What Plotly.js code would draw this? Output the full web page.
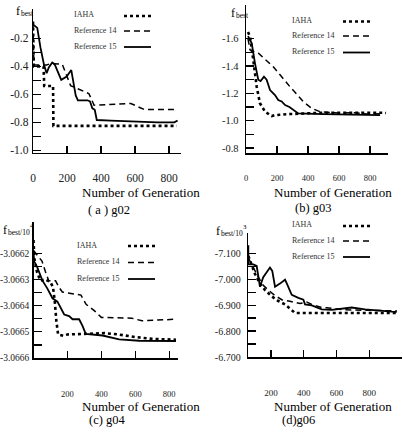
<!DOCTYPE html>
<html>
<head>
<meta charset="utf-8">
<script src="https://cdn.plot.ly/plotly-3.0.1.min.js"></script>
<style>
  html, body { margin: 0; padding: 0; background: #fff; }
  #chart { width: 403px; height: 436px; }
</style>
</head>
<body>
<div id="chart"></div>
<script>
// ---------------- DATA ----------------
const seriesNames = ["IAHA", "Reference 14", "Reference 15"];

// (a) g02
const a_iaha_x = [0, 5, 62, 66, 118, 120, 845];
const a_iaha_y = [-0.08, -0.40, -0.40, -0.54, -0.54, -0.825, -0.825];
const a_ref14_x = [0, 5, 80, 103, 172, 190, 221, 329, 359, 575, 654, 845];
const a_ref14_y = [-0.10, -0.39, -0.39, -0.38, -0.385, -0.44, -0.537, -0.595, -0.677, -0.665, -0.708, -0.708];
const a_ref15_x = [0, 25, 44, 64, 80, 93, 113, 127, 166, 198, 225, 237, 251, 264, 320, 335, 349, 363, 375, 457, 575, 732, 831, 850];
const a_ref15_y = [-0.10, -0.125, -0.266, -0.384, -0.449, -0.407, -0.372, -0.384, -0.496, -0.473, -0.426, -0.501, -0.607, -0.642, -0.642, -0.65, -0.70, -0.71, -0.783, -0.787, -0.794, -0.80, -0.80, -0.787];
const a_yticks = [-1.0, -0.8, -0.6, -0.4, -0.2];
const a_yticktext = ["-1.0", "-0.8", "-0.6", "-0.4", "-0.2"];
const a_yminor = [-0.9, -0.7, -0.5, -0.3];

// (b) g03
const b_iaha_x = [13, 26, 47, 69, 90, 123, 166, 187, 284, 499, 886, 903];
const b_iaha_y = [-1.65, -1.615, -1.444, -1.248, -1.127, -1.065, -1.033, -1.04, -1.048, -1.058, -1.058, -1.055];
const b_ref14_x = [13, 26, 80, 176, 284, 370, 424, 477, 540, 600, 700, 779, 865];
const b_ref14_y = [-1.60, -1.518, -1.494, -1.395, -1.248, -1.138, -1.09, -1.065, -1.06, -1.055, -1.058, -1.048, -1.05];
const b_ref15_x = [13, 37, 58, 79, 94, 116, 133, 155, 187, 208, 230, 252, 280, 305, 337, 499, 650, 865];
const b_ref15_y = [-1.62, -1.567, -1.42, -1.30, -1.29, -1.322, -1.30, -1.224, -1.187, -1.151, -1.14, -1.114, -1.10, -1.077, -1.053, -1.048, -1.045, -1.04];
const b_yticks = [-1.6, -1.4, -1.2, -1.0, -0.8];
const b_yticktext = ["-1.6", "-1.4", "-1.2", "-1.0", "-0.8"];
const b_yminor = [-1.5, -1.3, -1.1, -0.9];

// (c) g04
const c_iaha_x = [0, 5, 20, 40, 70, 100, 115, 125, 135, 145, 175, 200, 300, 420, 500, 600, 700, 840];
const c_iaha_y = [-3.06615, -3.06622, -3.06627, -3.066305, -3.06630, -3.06631, -3.06633, -3.06638, -3.06646, -3.06651, -3.066515, -3.06651, -3.066508, -3.066505, -3.06651, -3.06652, -3.066527, -3.06653];
const c_ref14_x = [0, 20, 50, 70, 90, 130, 150, 170, 280, 310, 360, 400, 580, 640, 840];
const c_ref14_y = [-3.06619, -3.066205, -3.06623, -3.06627, -3.066305, -3.066305, -3.06633, -3.066348, -3.06636, -3.066395, -3.06642, -3.066445, -3.066448, -3.066458, -3.066452];
const c_ref15_x = [0, 4, 23, 53, 82, 112, 141, 161, 181, 210, 230, 269, 289, 308, 407, 505, 623, 840];
const c_ref15_y = [-3.066195, -3.066231, -3.066255, -3.066305, -3.066335, -3.066372, -3.066385, -3.066409, -3.066434, -3.06644, -3.066452, -3.066452, -3.066477, -3.066508, -3.066514, -3.066529, -3.066534, -3.066535];
const c_yticks = [-3.0666, -3.0665, -3.0664, -3.0663, -3.0662];
const c_yticktext = ["-3.0666", "-3.0665", "-3.0664", "-3.0663", "-3.0662"];
const c_yminor = [-3.06655, -3.06645, -3.06635, -3.06625];

// (d) g06
const d_iaha_x = [62, 83, 103, 133, 164, 205, 245, 286, 316, 347, 968];
const d_iaha_y = [-7.09, -7.051, -7.020, -6.983, -6.958, -6.934, -6.916, -6.903, -6.887, -6.870, -6.870];
const d_ref14_x = [62, 92, 123, 153, 184, 225, 266, 316, 377, 418, 449, 510, 540, 652, 937, 968];
const d_ref14_y = [-7.082, -7.045, -7.008, -6.977, -6.958, -6.937, -6.921, -6.915, -6.906, -6.912, -6.903, -6.891, -6.890, -6.882, -6.879, -6.878];
const d_ref15_x = [62, 62, 72, 92, 113, 133, 153, 174, 194, 208, 225, 255, 286, 296, 327, 367, 398, 408, 449, 510, 571, 693, 774, 937, 968];
const d_ref15_y = [-7.131, -7.057, -7.057, -7.057, -7.051, -6.971, -7.008, -7.026, -7.045, -7.032, -6.971, -6.983, -6.998, -6.985, -6.940, -6.928, -6.921, -6.903, -6.899, -6.884, -6.882, -6.891, -6.884, -6.875, -6.874];
const d_yticks = [-7.1, -7.0, -6.9, -6.8, -6.7];
const d_yticktext = ["-7.100", "-7.000", "-6.900", "-6.800", "-6.700"];
const d_yminor = [-7.05, -6.95, -6.85, -6.75];

const xticks_full = [0, 200, 400, 600, 800];
const xticks_nozero = [200, 400, 600, 800];

// y-axis title pieces: main letter, subscript, exponent
const yTitleMain = ["f", "f", "f", "f"];
const yTitleSub = ["best", "best", "best/10", "best/10"];
const yTitleExp = ["", "", "4", "3"];
const xTitle = "Number of Generation";
const captions = ["( a ) g02", "(b) g03", "(c) g04", "(d)g06"];

// ---------------- LAYOUT HELPERS ----------------
const W = 403, H = 436;
const FONT = "Liberation Serif, Times New Roman, Times, DejaVu Serif, serif";
const px = v => v / W;
const py = v => 1 - v / H;

const styles = [
  {dash: "dot", width: 2.6},
  {dash: "6px,4px", width: 1.5},
  {dash: "solid", width: 1.8}
];

function tr(x, y, si, n) {
  return {
    type: "scatter", mode: "lines", x: x, y: y, name: seriesNames[si],
    xaxis: "x" + (n === 1 ? "" : n), yaxis: "y" + (n === 1 ? "" : n),
    line: {color: "#000", dash: styles[si].dash, width: styles[si].width},
    showlegend: false, hoverinfo: "skip"
  };
}

const data = [
  tr(a_iaha_x, a_iaha_y, 0, 1), tr(a_ref14_x, a_ref14_y, 1, 1), tr(a_ref15_x, a_ref15_y, 2, 1),
  tr(b_iaha_x, b_iaha_y, 0, 2), tr(b_ref14_x, b_ref14_y, 1, 2), tr(b_ref15_x, b_ref15_y, 2, 2),
  tr(c_iaha_x, c_iaha_y, 0, 3), tr(c_ref14_x, c_ref14_y, 1, 3), tr(c_ref15_x, c_ref15_y, 2, 3),
  tr(d_iaha_x, d_iaha_y, 0, 4), tr(d_ref14_x, d_ref14_y, 1, 4), tr(d_ref15_x, d_ref15_y, 2, 4)
];

function xax(domain, range, tickvals, anchor, fsize, standoff) {
  return {
    domain: domain, range: range, anchor: anchor,
    tickmode: "array", tickvals: tickvals, ticktext: tickvals.map(String),
    showline: true, linecolor: "#000", linewidth: 1.3,
    ticks: "inside", ticklen: 7, tickwidth: 1.3, tickcolor: "#000",
    ticklabelstandoff: standoff,
    showgrid: false, zeroline: false, fixedrange: true,
    tickfont: {family: FONT, size: fsize, color: "#222"}
  };
}
function yax(domain, range, tickvals, ticktext, minor, anchor, fsize, standoff) {
  return {
    domain: domain, range: range, anchor: anchor,
    tickmode: "array", tickvals: tickvals, ticktext: ticktext,
    showline: true, linecolor: "#000", linewidth: 1.3,
    ticks: "inside", ticklen: 8, tickwidth: 1.3, tickcolor: "#000",
    ticklabelstandoff: standoff,
    minor: {tickmode: "array", tickvals: minor, ticks: "inside", ticklen: 8, tickwidth: 1.3, tickcolor: "#000", showgrid: false},
    showgrid: false, zeroline: false, fixedrange: true,
    tickfont: {family: FONT, size: fsize, color: "#222"}
  };
}

const layout = {
  width: W, height: H,
  margin: {l: 0, r: 0, t: 0, b: 0},
  paper_bgcolor: "#fff", plot_bgcolor: "#fff",
  font: {family: FONT, size: 12, color: "#000"},
  showlegend: false,
  xaxis:  xax([px(33), px(181)], [0, 870], xticks_full, "y", 11.5, 14),
  yaxis:  yax([py(152.5), py(9)], [-1.015, 0.01], a_yticks, a_yticktext, a_yminor, "x", 11.5, 1),
  xaxis2: xax([px(246), px(388)], [0, 916], xticks_full, "y2", 8.5, 16),
  yaxis2: yax([py(153.3), py(5)], [-0.76, -1.848], b_yticks, b_yticktext, b_yminor, "x2", 10.5, 4),
  xaxis3: xax([px(33.5), px(178)], [0, 852], xticks_nozero, "y3", 8.5, 27),
  yaxis3: yax([py(358.3), py(222)], [-3.066601, -3.066081], c_yticks, c_yticktext, c_yminor, "x3", 9.5, 1),
  xaxis4: xax([px(248), px(402)], [60, 1000], xticks_nozero, "y4", 9, 27),
  yaxis4: yax([py(357.3), py(233.3)], [-6.699, -7.177], d_yticks, d_yticktext, d_yminor, "x4", 10, 4),
  annotations: [],
  shapes: []
};

function ann(x, y, text, size, anchor, color) {
  layout.annotations.push({
    xref: "paper", yref: "paper", x: px(x), y: py(y), xanchor: anchor || "left", yanchor: "middle",
    text: text, showarrow: false, font: {family: FONT, size: size, color: color || "#000"}
  });
}

// y-axis titles: f + subscript (+ exponent) at the top-left of each y axis
const yTitlePos = [[14, 11], [229, 13], [1, 230], [214, 231]];
const subWidth = [0, 0, 22, 22];
yTitlePos.forEach((p, i) => {
  ann(p[0], p[1], yTitleMain[i], 12);
  ann(p[0] + 5, p[1] + 2.5, yTitleSub[i], 7.5);
  if (yTitleExp[i]) ann(p[0] + 5 + subWidth[i], p[1] - 4, yTitleExp[i], 7);
});

// x titles and captions
const xTitlePos = [[141, 193], [333, 193], [141, 406.5], [333, 406.5]];
const capPos = [[86, 210], [293, 208], [87, 420], [280, 420]];
xTitlePos.forEach((p, i) => {
  ann(p[0], p[1], xTitle, 13, "center");
  ann(capPos[i][0], capPos[i][1], captions[i], 12.5);
});

// in-plot legends: text on the left, line sample on the right
const legendPos = [
  {tx: 72, rows: [15, 30, 46], s0: 124, s1: 151},
  {tx: 290, rows: [20.5, 35, 51.5], s0: 343, s1: 370},
  {tx: 75, rows: [245, 261.5, 278], s0: 128, s1: 155},
  {tx: 290, rows: [225, 240, 256], s0: 343, s1: 370}
];
legendPos.forEach(L => {
  seriesNames.forEach((nm, si) => {
    ann(L.tx, L.rows[si], nm, 8, "left", "#333");
    layout.shapes.push({
      type: "line", xref: "paper", yref: "paper",
      x0: px(L.s0), x1: px(L.s1), y0: py(L.rows[si] + 1), y1: py(L.rows[si] + 1),
      line: {color: "#000", width: styles[si].width, dash: styles[si].dash}
    });
  });
});

Plotly.newPlot("chart", data, layout, {displayModeBar: false, staticPlot: true});
</script>
</body>
</html>
